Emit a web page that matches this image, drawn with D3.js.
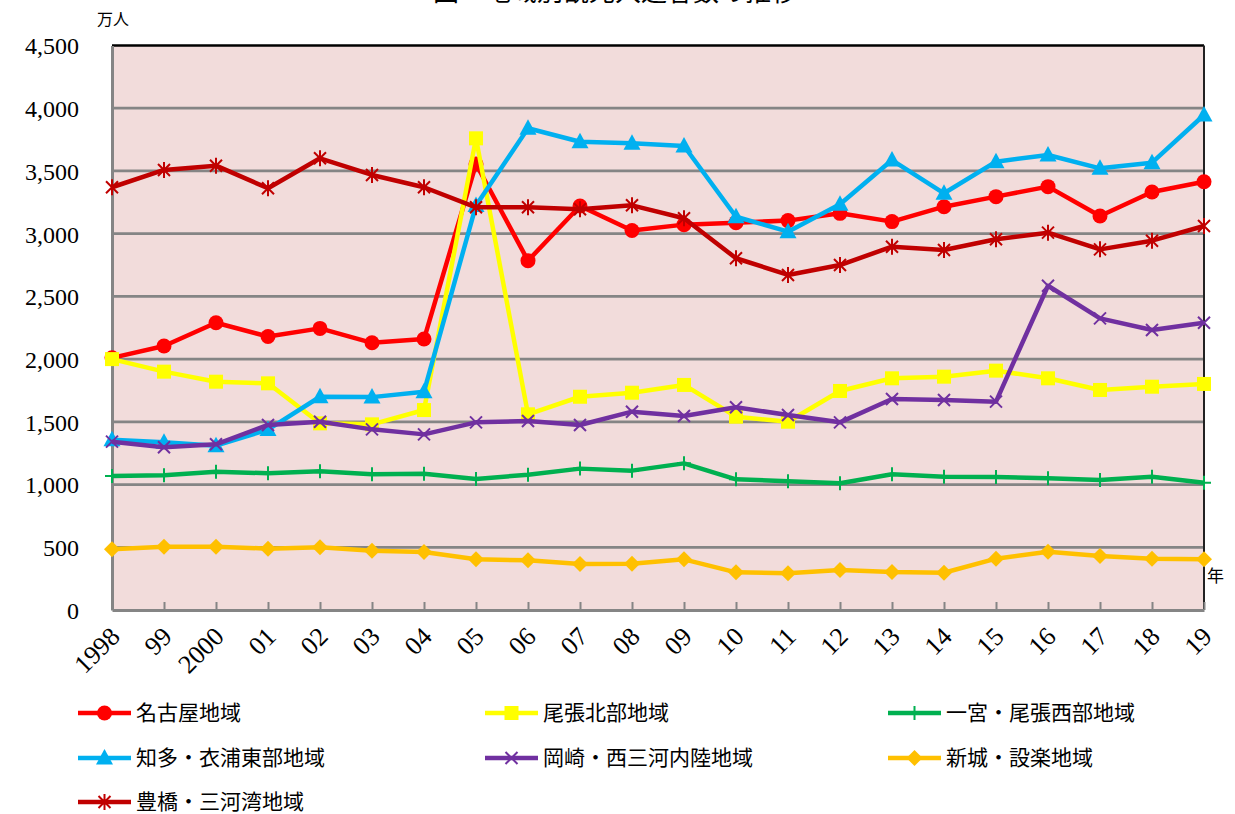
<!DOCTYPE html>
<html>
<head>
<meta charset="utf-8">
<script src="https://cdn.jsdelivr.net/npm/d3@7"></script>
<style>
  body { margin: 0; background: #fff; }
  svg { display: block; }
  .num { font-family: "Liberation Serif", "DejaVu Serif", serif; font-size: 24px; fill: #000; }
  .jp { font-family: "Noto Sans CJK JP", sans-serif; fill: #000; }
</style>
</head>
<body>
<svg width="1235" height="814"></svg>
<script>
var years = ["1998","99","2000","01","02","03","04","05","06","07","08","09","10","11","12","13","14","15","16","17","18","19"];
var yTicks = [0, 500, 1000, 1500, 2000, 2500, 3000, 3500, 4000, 4500];

var seriesNames = ["名古屋地域", "尾張北部地域", "一宮・尾張西部地域", "知多・衣浦東部地域", "岡崎・西三河内陸地域", "新城・設楽地域", "豊橋・三河湾地域"];

var nagoya     = [2010, 2105, 2290, 2180, 2245, 2130, 2160, 3555, 2785, 3220, 3025, 3072, 3088, 3104, 3162, 3096, 3215, 3295, 3375, 3141, 3332, 3414];
var owariNorth = [2000, 1900, 1820, 1807, 1488, 1480, 1594, 3760, 1560, 1700, 1732, 1794, 1541, 1501, 1746, 1847, 1860, 1908, 1847, 1754, 1780, 1802];
var ichinomiya = [1068, 1074, 1103, 1090, 1106, 1082, 1087, 1044, 1079, 1127, 1111, 1169, 1042, 1026, 1010, 1082, 1063, 1060, 1050, 1036, 1063, 1015];
var chita      = [1358, 1338, 1310, 1438, 1700, 1697, 1740, 3225, 3840, 3733, 3720, 3699, 3135, 3016, 3234, 3587, 3322, 3574, 3627, 3521, 3566, 3946];
var okazaki    = [1342, 1297, 1321, 1475, 1501, 1440, 1400, 1496, 1507, 1475, 1581, 1547, 1616, 1555, 1496, 1682, 1674, 1661, 2585, 2325, 2232, 2290];
var shinshiro  = [484, 505, 505, 489, 500, 473, 462, 404, 396, 367, 369, 404, 300, 293, 319, 303, 297, 409, 465, 430, 409, 404];
var toyohashi  = [3370, 3508, 3542, 3362, 3601, 3468, 3370, 3210, 3210, 3194, 3226, 3123, 2804, 2671, 2750, 2896, 2870, 2955, 3008, 2875, 2944, 3061];

var seriesValues = [nagoya, owariNorth, ichinomiya, chita, okazaki, shinshiro, toyohashi];
var seriesColors = ["#FF0000", "#FFFF00", "#00B050", "#00B0F0", "#7030A0", "#FFC000", "#C00000"];
var seriesMarkers = ["circle", "square", "plus", "triangle", "x", "diamond", "asterisk"];

var svg = d3.select("svg");
var plotLeft = 112, plotRight = 1204, plotTop = 45.5, plotBottom = 610;

var x = d3.scalePoint().domain(years).range([plotLeft, plotRight]).padding(0);
var y = d3.scaleLinear().domain([0, 4500]).range([plotBottom, plotTop]);

// title (clipped at the top in the source)
svg.append("text").attr("class", "jp")
  .attr("x", 615).attr("y", 1).attr("text-anchor", "middle")
  .style("font-size", "26px")
  .text("図　地域別観光入込客数の推移");

// plot background
svg.append("rect")
  .attr("x", plotLeft).attr("y", plotTop)
  .attr("width", plotRight - plotLeft).attr("height", plotBottom - plotTop)
  .attr("fill", "#F2DCDB");

// gridlines
svg.append("g").selectAll("line")
  .data(yTicks.filter(function(d) { return d > 0 && d < 4500; }))
  .enter().append("line")
  .attr("x1", plotLeft).attr("x2", plotRight)
  .attr("y1", function(d) { return y(d); })
  .attr("y2", function(d) { return y(d); })
  .attr("stroke", "#858585").attr("stroke-width", 2.8);

// top and right border
svg.append("line").attr("x1", plotLeft).attr("x2", plotRight).attr("y1", plotTop).attr("y2", plotTop)
  .attr("stroke", "#000").attr("stroke-width", 2.5);
svg.append("line").attr("x1", plotRight).attr("x2", plotRight).attr("y1", plotTop).attr("y2", plotBottom)
  .attr("stroke", "#222").attr("stroke-width", 2);

// y axis
var yAxis = svg.append("g")
  .attr("transform", "translate(" + plotLeft + ",0)")
  .call(d3.axisLeft(y).tickValues(yTicks).tickFormat(d3.format(",")).tickSize(0).tickPadding(33));
yAxis.select(".domain").attr("stroke", "#858585").attr("stroke-width", 3);
yAxis.selectAll("text").attr("class", "num").attr("dy", "0.35em");

// x axis
var xAxis = svg.append("g")
  .attr("transform", "translate(0," + plotBottom + ")")
  .call(d3.axisBottom(x).tickSize(-8).tickSizeOuter(0));
xAxis.select(".domain").attr("stroke", "#858585").attr("stroke-width", 3);
xAxis.selectAll(".tick line").attr("stroke", "#858585").attr("stroke-width", 2);
xAxis.selectAll("text")
  .attr("class", "num")
  .style("font-size", "26px")
  .attr("text-anchor", "end")
  .attr("y", 0).attr("dy", 0)
  .attr("transform", "translate(9,28) rotate(-45)");

// unit labels
svg.append("text").attr("class", "jp").attr("x", 97).attr("y", 25)
  .style("font-size", "16px").text("万人");
svg.append("text").attr("class", "jp").attr("x", 1207).attr("y", 582)
  .style("font-size", "17px").text("年");

function drawMarker(g, type, color) {
  if (type === "circle") {
    g.append("circle").attr("r", 7.5).attr("fill", color);
  } else if (type === "square") {
    g.append("rect").attr("x", -7).attr("y", -7).attr("width", 14).attr("height", 14).attr("fill", color);
  } else if (type === "triangle") {
    g.append("path").attr("d", "M0,-9L8.5,6.5L-8.5,6.5Z").attr("fill", color);
  } else if (type === "diamond") {
    g.append("path").attr("d", "M0,-8L8,0L0,8L-8,0Z").attr("fill", color);
  } else if (type === "plus") {
    g.append("path").attr("d", "M0,-7V7M-7,0H7").attr("stroke", color).attr("stroke-width", 2);
  } else if (type === "x") {
    g.append("path").attr("d", "M-6,-6L6,6M-6,6L6,-6").attr("stroke", color).attr("stroke-width", 2);
  } else if (type === "asterisk") {
    g.append("path").attr("d", "M-6,-6L6,6M-6,6L6,-6M0,-8V8").attr("stroke", color).attr("stroke-width", 2);
  }
}

var line = d3.line()
  .x(function(d, i) { return x(years[i]); })
  .y(function(d) { return y(d); });

seriesValues.forEach(function(vals, s) {
  var g = svg.append("g");
  g.append("path")
    .datum(vals)
    .attr("d", line)
    .attr("fill", "none")
    .attr("stroke", seriesColors[s])
    .attr("stroke-width", 4.5)
    .attr("stroke-linejoin", "round");
  g.selectAll(".pt")
    .data(vals)
    .enter().append("g")
    .attr("transform", function(d, i) { return "translate(" + x(years[i]) + "," + y(d) + ")"; })
    .each(function() { drawMarker(d3.select(this), seriesMarkers[s], seriesColors[s]); });
});

// legend
var legendCols = [78, 485, 888];
var legendRows = [713, 758, 802];
seriesNames.forEach(function(name, i) {
  var lx = legendCols[i % 3], ly = legendRows[Math.floor(i / 3)];
  var g = svg.append("g").attr("transform", "translate(" + lx + "," + ly + ")");
  g.append("line").attr("x1", 0).attr("x2", 53).attr("y1", 0).attr("y2", 0)
    .attr("stroke", seriesColors[i]).attr("stroke-width", 4.5);
  var m = g.append("g").attr("transform", "translate(26.5,0)");
  drawMarker(m, seriesMarkers[i], seriesColors[i]);
  g.append("text").attr("class", "jp").attr("x", 58).attr("y", 0).attr("dy", "0.35em")
    .style("font-size", "21px").text(name);
});
</script>
</body>
</html>
